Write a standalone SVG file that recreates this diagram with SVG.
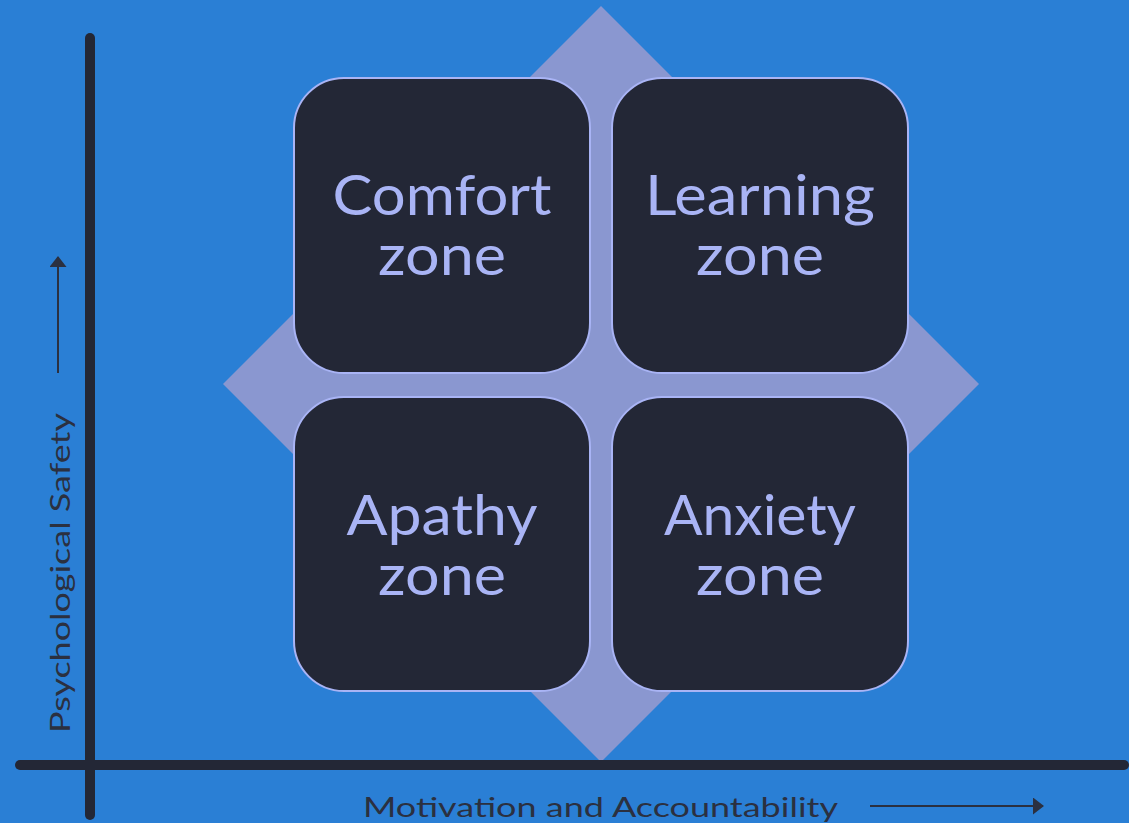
<svg xmlns="http://www.w3.org/2000/svg" width="1129" height="823" viewBox="0 0 1129 823">
  <style>
    .box { fill: #232736; stroke: #a9b4f5; stroke-width: 2; }
    .zone { fill: #a9b4f5; font-family: "Lato", "Liberation Sans", sans-serif; font-size: 56px; text-anchor: middle; }
    .axis { stroke: #232736; stroke-width: 10; stroke-linecap: round; fill: none; }
    .label { fill: #2b3040; font-family: "Lato", "Liberation Sans", sans-serif; font-size: 27px; }
    .guide { stroke: #2b3040; stroke-width: 2; fill: none; }
  </style>
  <defs>
    <marker id="head" viewBox="0 0 11 17" refX="10" refY="8.5" markerWidth="11" markerHeight="17" markerUnits="userSpaceOnUse" orient="auto">
      <path d="M0,0 L11,8.5 L0,17 Z" fill="#2b3040"/>
    </marker>
  </defs>

  <!-- background -->
  <rect x="0" y="0" width="1129" height="823" fill="#2a7fd5"/>

  <!-- backing diamond -->
  <polygon points="601,6 979,384 601,762 223,384" fill="#8a97d0"/>

  <!-- quadrants -->
  <g id="comfort">
    <rect class="box" x="294" y="78" width="296" height="295" rx="50" ry="50"/>
    <text class="zone" x="442" y="215" textLength="219" lengthAdjust="spacingAndGlyphs">Comfort</text>
    <text class="zone" x="442" y="275" textLength="128" lengthAdjust="spacingAndGlyphs">zone</text>
  </g>
  <g id="learning">
    <rect class="box" x="612" y="78" width="296" height="295" rx="50" ry="50"/>
    <text class="zone" x="760" y="215" textLength="230" lengthAdjust="spacingAndGlyphs">Learning</text>
    <text class="zone" x="760" y="275" textLength="128" lengthAdjust="spacingAndGlyphs">zone</text>
  </g>
  <g id="apathy">
    <rect class="box" x="294" y="397" width="296" height="294" rx="50" ry="50"/>
    <text class="zone" x="442" y="535" textLength="191" lengthAdjust="spacingAndGlyphs">Apathy</text>
    <text class="zone" x="442" y="595" textLength="128" lengthAdjust="spacingAndGlyphs">zone</text>
  </g>
  <g id="anxiety">
    <rect class="box" x="612" y="397" width="296" height="294" rx="50" ry="50"/>
    <text class="zone" x="760" y="535" textLength="192" lengthAdjust="spacingAndGlyphs">Anxiety</text>
    <text class="zone" x="760" y="595" textLength="128" lengthAdjust="spacingAndGlyphs">zone</text>
  </g>

  <!-- axes and direction arrows -->
  <g id="connectors">
    <line class="axis" x1="90" y1="38" x2="90" y2="815"/>
    <line class="axis" x1="20" y1="765" x2="1124" y2="765"/>
    <line class="guide" x1="58" y1="373" x2="58" y2="257" marker-end="url(#head)"/>
    <line class="guide" x1="870" y1="806" x2="1043" y2="806" marker-end="url(#head)"/>
  </g>

  <!-- axis titles -->
  <text class="label" transform="translate(70,733) rotate(-90)" textLength="320" lengthAdjust="spacingAndGlyphs">Psychological Safety</text>
  <text class="label" x="363" y="817" textLength="475" lengthAdjust="spacingAndGlyphs">Motivation and Accountability</text>
</svg>
